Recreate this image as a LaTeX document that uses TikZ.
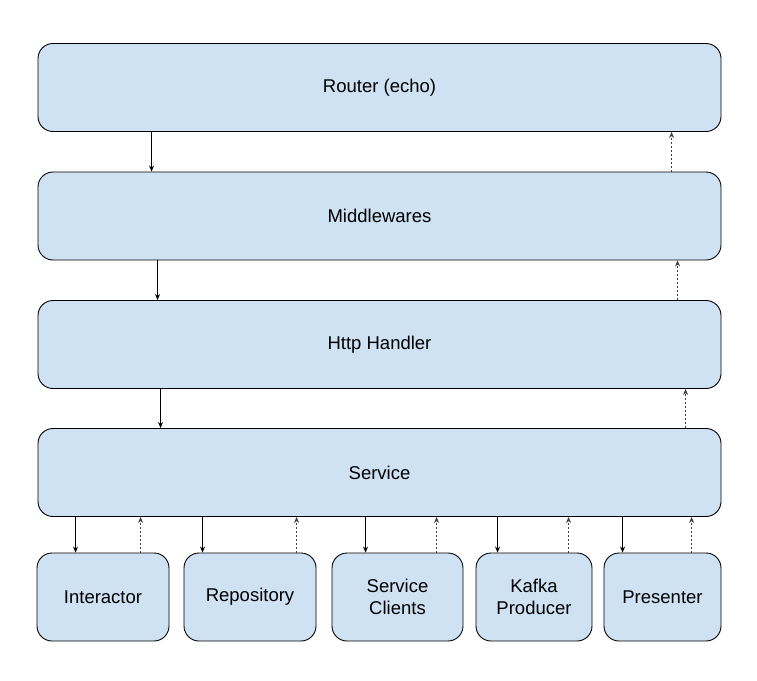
\documentclass[tikz,border=0pt]{standalone}
\usepackage{fontspec}
\setmainfont{Liberation Sans}
\usepackage{tikz}
\usetikzlibrary{arrows.meta}
\usetikzlibrary{positioning}
\definecolor{layerblue}{HTML}{CFE2F3}

\tikzset{
    layer/.style={draw=black, line width=0.9pt, fill=layerblue, rounded corners=15pt,
        minimum height=88pt, align=center,
        font=\fontsize{18.5}{22}\selectfont},
    call/.style={-{Stealth[length=6pt,width=5pt]}, line width=0.9pt},
    back/.style={-{Stealth[length=6pt,width=5pt]}, line width=0.7pt,
        draw=black!75, dash pattern=on 2pt off 2pt}
}

\begin{document}
\begin{tikzpicture}[x=1pt, y=-1pt]
    \useasboundingbox (0,0) rectangle (757,680);
    % stacked layers
    \foreach[count=\i] \lname/\ltext/\ly in {router/Router (echo)/87.5,
        mw/Middlewares/216, hh/Http Handler/344.5, svc/Service/472.5} {
        \node[layer, minimum width=683pt] (\lname) at (379.5,\ly) {\ltext};
    }
    % components below the service
    \foreach \cname/\ctext/\cx/\cw in {ia/Interactor/103/132, repo/Repository/250/132,
        sc/Service\\Clients/397.5/131, kp/Kafka\\Producer/534/116,
        pr/Presenter/662.5/117} {
        \node[layer, minimum width=\cw pt] (\cname) at (\cx,597) {\ctext};
    }
    % requests going down
    \draw[call] ([xshift=114pt]router.south west) -- ([xshift=114pt]mw.north west);
    \draw[call] ([xshift=120pt]mw.south west) -- ([xshift=120pt]hh.north west);
    \draw[call] ([xshift=123pt]hh.south west) -- ([xshift=123pt]svc.north west);
    % responses going up
    \draw[back] ([xshift=634pt]mw.north west) -- ([xshift=634pt]router.south west);
    \draw[back] ([xshift=640pt]hh.north west) -- ([xshift=640pt]mw.south west);
    \draw[back] ([xshift=648pt]svc.north west) -- ([xshift=648pt]hh.south west);
    % service to components and back
    \foreach \cname/\dn/\up in {ia/39/104, repo/19/113, sc/34/105, kp/22/93, pr/19/88} {
        \draw[call] ([xshift=\dn pt]\cname.north west |- svc.south)
            -- ([xshift=\dn pt]\cname.north west);
        \draw[back] ([xshift=\up pt]\cname.north west)
            -- ([xshift=\up pt]\cname.north west |- svc.south);
    }
\end{tikzpicture}
\end{document}
